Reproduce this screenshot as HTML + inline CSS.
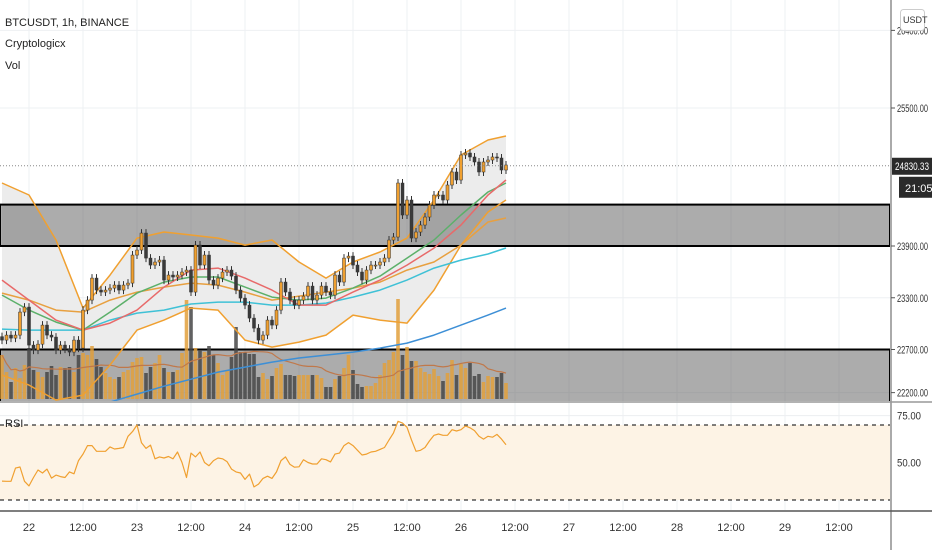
<!DOCTYPE html>
<html><head><meta charset="utf-8"><style>
html,body{margin:0;padding:0;background:#fff;width:932px;height:550px;overflow:hidden}
svg text{font-family:"Liberation Sans",sans-serif}
</style></head><body>
<svg id="chart" width="932" height="550" viewBox="0 0 932 550" xmlns="http://www.w3.org/2000/svg">
<defs><clipPath id="mainClip"><rect x="0" y="0" width="890" height="401"/></clipPath>
<clipPath id="rsiClip"><rect x="0" y="403" width="890" height="107"/></clipPath></defs>
<rect x="0" y="0" width="932" height="550" fill="#fff"/>
<g id="grid"></g>
<g id="main" clip-path="url(#mainClip)"></g>
<g id="rsi" clip-path="url(#rsiClip)"></g>
<g id="axes"></g>
<text x="5" y="26" font-size="11" fill="#222">BTCUSDT, 1h, BINANCE</text>
<text x="5" y="47" font-size="11" fill="#222">Cryptologicx</text>
<text x="5" y="69" font-size="11" fill="#222">Vol</text>
<text x="5" y="427" font-size="11" fill="#222">RSI</text>
</svg>
<script>
const closes=[22809,22867,22832,22867,23134,23192,22751,22693,22762,22983,22867,22844,22693,22751,22704,22670,22809,22716,23157,23273,23528,23389,23366,23389,23412,23447,23389,23447,23470,23795,23853,24050,23760,23679,23714,23737,23505,23563,23540,23563,23598,23621,23366,23911,23679,23795,23505,23447,23528,23598,23621,23551,23389,23296,23215,23064,22948,22809,22867,23041,22983,23157,23482,23366,23273,23215,23273,23319,23435,23273,23331,23435,23366,23331,23563,23482,23760,23783,23679,23598,23505,23621,23679,23679,23714,23760,23969,24004,24630,24259,24433,23992,24062,24143,24236,24375,24491,24491,24433,24607,24758,24665,24955,24978,24932,24874,24758,24874,24897,24932,24920,24781,24839];
const volumes=[440,270,170,310,210,340,510,290,270,220,270,330,240,320,310,320,270,440,460,440,530,400,320,260,220,200,220,270,290,370,410,420,260,320,360,440,310,270,270,290,460,990,920,510,490,470,530,440,360,240,290,420,720,470,470,450,450,220,260,200,230,310,350,240,240,230,240,240,240,240,240,210,120,120,200,230,310,440,290,150,120,130,130,160,240,360,390,470,1000,440,520,380,380,310,270,250,300,230,180,260,390,240,350,310,360,230,250,170,230,220,220,260,160];
const rsiValues=[40.1,40,40,47,47.6,40,37.5,42,46,44.4,46.5,41.7,43.3,42.5,42,45,44,51,54.5,59,59,56,56,56,58.3,57.2,57.5,58,64,66.5,70,60.5,57.5,59.3,52,53,52.4,53.2,52,55.6,50,42,55,53,55.6,50,48.3,51,52.4,52,50.5,46.5,45,44.4,41,43.8,37,38.5,41.5,42.7,41.5,45,51,53,49,47.5,47.7,51.5,50,49.2,49.2,52,51.5,50.3,54.5,55,59,60.6,59,56.5,54,54.5,55.6,56,57,58,62,65.8,72,71,68.8,62,56,56.5,58,61.5,64.5,65.2,64.5,64.5,67.5,66.8,67.5,69.5,68.5,67,64,62.5,64,63.5,65,62.5,59.5];
const sampleIdx=[0,6,12,18,24,30,36,42,48,54,60,66,72,78,84,90,96,102,108,112];
const bbUpper=[24630,24491,23969,23180,23563,23992,24062,24027,23992,23911,23969,23714,23528,23714,23830,23992,24433,24955,25129,25175];
const bbLower=[22403,22287,22113,22171,22519,22925,23041,23180,23157,22809,22728,22786,22867,23099,23041,23006,23389,23911,24294,24433];
const bbBasis=[23354,23273,23157,23134,23273,23366,23424,23470,23447,23366,23273,23319,23366,23412,23482,23621,23714,23911,24178,24225];
const emaFast=[23505,23273,23041,22925,23006,23157,23424,23621,23644,23528,23389,23215,23215,23366,23505,23679,23876,24143,24491,24665];
const emaSlow=[23331,23157,23018,22925,23134,23354,23482,23540,23540,23424,23308,23273,23296,23412,23551,23760,23969,24259,24526,24630];
const sma100=[22937,22925,22925,22925,23041,23122,23157,23227,23250,23250,23215,23215,23238,23308,23389,23505,23644,23737,23807,23877];
const sma200Idx=[24,30,36,42,48,54,60,66,72,78,84,90,96,102,108,112];
const sma200=[22090,22183,22275,22356,22438,22496,22554,22601,22635,22670,22716,22774,22867,22983,23099,23180];
const priceTicks=[26400,25500,23900,23300,22700,22200];
const rsiTicks=[75,50];
const timeLabels=["22","12:00","23","12:00","24","12:00","25","12:00","26","12:00","27","12:00","28","12:00","29","12:00"];
const timeLabelIdx=[6,18,30,42,54,66,78,90,102,114,126,138,150,162,174,186];
const lastPrice=24830.33;

const NS="http://www.w3.org/2000/svg";
function mk(tag,attrs,parent){const e=document.createElementNS(NS,tag);for(const k in attrs)e.setAttribute(k,attrs[k]);parent.appendChild(e);return e;}
const xOf=i=>2+4.5*i;
const yP=p=>108+(25500-p)*0.08625;
const yV=v=>399-v*0.1;
const yR=r=>425+(70-r)*1.875;
const main=document.getElementById('main'),rsiG=document.getElementById('rsi'),grid=document.getElementById('grid'),axes=document.getElementById('axes');

timeLabelIdx.forEach((ti,k)=>{const g=mk('line',{x1:xOf(ti),x2:xOf(ti),y1:0,y2:510,stroke:'#eef0f3','stroke-width':1},grid);

});
priceTicks.forEach(p=>{const g=mk('line',{x1:0,x2:890,y1:yP(p),y2:yP(p),stroke:'#eef0f3','stroke-width':1},grid);

});
rsiTicks.forEach(r=>{const g=mk('line',{x1:0,x2:890,y1:yR(r),y2:yR(r),stroke:'#eceef1','stroke-width':1},grid);

});

function pathFrom(idx,vals,yf){return idx.map((i,k)=>(k?'L':'M')+xOf(i).toFixed(1)+','+yf(vals[k]).toFixed(1)).join('');}

{let d=pathFrom(sampleIdx,bbUpper,yP);for(let k=sampleIdx.length-1;k>=0;k--)d+='L'+xOf(sampleIdx[k]).toFixed(1)+','+yP(bbLower[k]).toFixed(1);d+='Z';
const f=mk('path',{d:d,fill:'#ececec'},main);

}

[[24380,23900],[22700,22000]].forEach((z,k)=>{const r=mk('rect',{x:0,y:yP(z[0]),width:890,height:yP(z[1])-yP(z[0]),fill:'rgba(90,90,90,0.5)',stroke:'#000','stroke-width':2},main);

});

volumes.forEach((v,i)=>{const up=i===0?true:closes[i]>=closes[i-1];const b=mk('rect',{x:xOf(i)-1.8,y:yV(v),width:3.6,height:399-yV(v),fill:up?'rgba(226,160,60,0.85)':'rgba(70,70,70,0.85)'},main);

});
{const ma=volumes.map((v,i)=>{const s=volumes.slice(Math.max(0,i-19),i+1);return s.reduce((a,b)=>a+b,0)/s.length;});
const d=ma.map((m,i)=>(i?'L':'M')+xOf(i).toFixed(1)+','+yV(m).toFixed(1)).join('');
const l=mk('path',{d:d,fill:'none',stroke:'#c0784a','stroke-width':1.2},main);

}

[[sampleIdx,bbUpper,'#f0a030','bb-upper'],[sampleIdx,bbLower,'#f0a030','bb-lower'],[sampleIdx,bbBasis,'#e8a040','bb-basis'],[sampleIdx,sma100,'#3fc1d6','sma-100'],[sma200Idx,sma200,'#3d8fd6','sma-200'],[sampleIdx,emaSlow,'#5cb06a','ema-slow'],[sampleIdx,emaFast,'#e86a6a','ema-fast']].forEach(s=>{
const l=mk('path',{d:pathFrom(s[0],s[1],yP),fill:'none',stroke:s[2],'stroke-width':1.5,'stroke-linejoin':'round'},main);

});

closes.forEach((c,i)=>{const o=i===0?c+40:closes[i-1];const up=c>=o;const x=xOf(i);
const hi=Math.max(o,c),lo=Math.min(o,c);
const w=mk('line',{x1:x,x2:x,y1:yP(hi)-4,y2:yP(lo)+4,stroke:'#333','stroke-width':1},main);


const b=mk('rect',{x:x-1.5,y:yP(hi),width:3,height:Math.max(1,yP(lo)-yP(hi)),fill:up?'#f0a030':'#3a3a3a',stroke:'#333','stroke-width':0.5},main);

});

{const l=mk('line',{x1:0,x2:890,y1:yP(lastPrice),y2:yP(lastPrice),stroke:'#888','stroke-width':1,'stroke-dasharray':'1,2'},main);

}

{const bg=mk('rect',{x:0,y:yR(70),width:890,height:yR(30)-yR(70),fill:'#fdf3e5'},rsiG);


[70,30].forEach(v=>{const l=mk('line',{x1:0,x2:890,y1:yR(v),y2:yR(v),stroke:'#333','stroke-width':1.2,'stroke-dasharray':'4,4'},rsiG);

});
const d=rsiValues.map((r,i)=>(i?'L':'M')+xOf(i).toFixed(1)+','+yR(r).toFixed(1)).join('');
const l=mk('path',{d:d,fill:'none',stroke:'#f0a030','stroke-width':1.2,'stroke-linejoin':'round'},rsiG);

}

{const a=mk('line',{x1:891,x2:891,y1:0,y2:550,stroke:'#555','stroke-width':1},axes);


const s=mk('line',{x1:0,x2:932,y1:402,y2:402,stroke:'#999','stroke-width':1.5},axes);


const t=mk('line',{x1:0,x2:932,y1:511,y2:511,stroke:'#555','stroke-width':1.5},axes);

}
priceTicks.forEach(p=>{const y=yP(p);
const tk=mk('line',{x1:891,x2:895,y1:y,y2:y,stroke:'#555'},axes);


const t=mk('text',{x:897,y:y+4,'font-size':11,fill:'#333',textLength:31,lengthAdjust:'spacingAndGlyphs'},axes);
t.textContent=p.toFixed(2);

});
rsiTicks.forEach(r=>{const y=yR(r);
const t=mk('text',{x:897,y:y+4,'font-size':11,fill:'#333',textLength:24,lengthAdjust:'spacingAndGlyphs'},axes);
t.textContent=r.toFixed(2);

});
timeLabels.forEach((s,k)=>{const t=mk('text',{x:xOf(timeLabelIdx[k]),y:531,'font-size':11,fill:'#333','text-anchor':'middle'},axes);
t.textContent=s;

});
{const y=yP(lastPrice);
const r=mk('rect',{x:892,y:y-8,width:40,height:17,fill:'#2a2a2a'},axes);


const t=mk('text',{x:895,y:y+4,'font-size':11,fill:'#fff',textLength:34,lengthAdjust:'spacingAndGlyphs'},axes);
t.textContent=lastPrice.toFixed(2);


const r2=mk('rect',{x:899,y:y+11,width:33,height:21,fill:'#2a2a2a'},axes);


const t2=mk('text',{x:905,y:y+26,'font-size':11,fill:'#fff'},axes);
t2.textContent='21:05';


const u=mk('rect',{x:900.5,y:9.5,width:24,height:21,rx:3,fill:'#fff',stroke:'#ccc'},axes);


const ut=mk('text',{x:903,y:23,'font-size':9,fill:'#333'},axes);
ut.textContent='USDT';

}
</script>
</body></html>
